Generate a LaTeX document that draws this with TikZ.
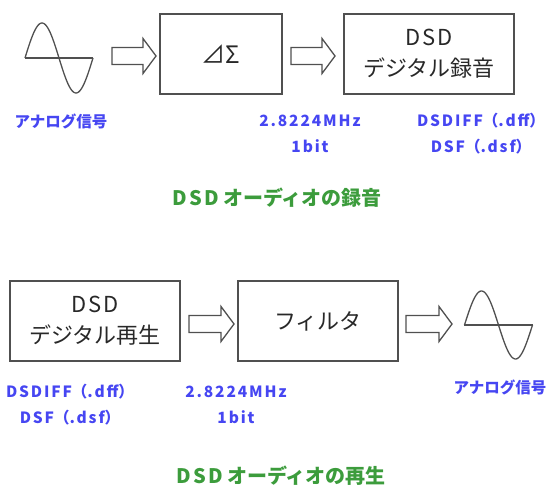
\documentclass[tikz,border=0pt]{standalone}
\usepackage{fontspec}
\setmainfont{Noto Sans CJK JP}
\usetikzlibrary{calc}
\definecolor{lblblue}{HTML}{4646F2}
\definecolor{lblgreen}{HTML}{3C9C3C}
\definecolor{linegray}{HTML}{505050}
\definecolor{txtgray}{HTML}{282828}
\newcommand\lsp[1]{{\addfontfeature{LetterSpace=12}#1}}
\newcommand\lspb[1]{{\addfontfeature{LetterSpace=10}#1}}
\newcommand\hollowarrow[2]{%
  \draw[arrowline] (#1) ++(0,-8.5) -- ++({#2-13},0) -- ++(0,-9) -- ++(13,17.5)
    -- ++(-13,17.5) -- ++(0,-9) -- ++({-(#2-13)},0) -- cycle;}
\tikzset{
  box/.style={draw=linegray, line width=1.3pt, text=txtgray, align=center,
    font=\fontsize{22}{31}\selectfont, inner sep=0pt},
  arrowline/.style={draw=linegray, line width=1.3pt, line join=miter},
  wave/.style={draw=linegray, line width=1.3pt},
  bluelbl/.style={text=lblblue, font=\fontsize{15.5}{26}\selectfont\bfseries, inner sep=0pt, align=center},
  greenlbl/.style={text=lblgreen, font=\fontsize{20}{22}\selectfont\bfseries, inner sep=0pt},
  wavebox/.style={minimum width=68pt, minimum height=70pt, inner sep=0pt}
}
\begin{document}
\begin{tikzpicture}[x=1pt,y=-1pt]
\useasboundingbox (0,0) rectangle (550,489);
% ---------- top row ----------
\node[wavebox] (sine1) at (59,58) {};
\draw[wave] (sine1.west) -- (sine1.east);
\draw[wave] plot[domain=0:360, samples=72, smooth] ({25+\x/360*68},{58-35*sin(\x)});
\coordinate (a1) at (112,56);
\hollowarrow{a1}{44}
\node[box, minimum width=122pt, minimum height=80pt, font=\fontsize{24}{31}\selectfont] (ds) at (221,54) {⊿Σ};
\coordinate (a2) at (291,56);
\hollowarrow{a2}{44}
\node[box, minimum width=170pt, minimum height=80pt] (rec) at (429,54) {\lspb{DSD}\\デジタル録音};
\node[bluelbl] (an1) at (61,121) {アナログ信号};
\node[bluelbl] (fq1) at (310,134) {\lsp{2.8224MHz}\\\lsp{1bit}};
\node[bluelbl] (fm1) at (481,134) {\lsp{DSDIFF}（\lsp{.dff}）\\\lsp{DSF}（\lsp{.dsf}）};
\node[greenlbl] (t1) at (277,198) {\lsp{DSD} オーディオの録音};
% ---------- bottom row ----------
\node[box, minimum width=170pt, minimum height=80pt] (play) at (95,321) {\lspb{DSD}\\デジタル再生};
\coordinate (b1) at (189,324);
\hollowarrow{b1}{45}
\node[box, minimum width=160pt, minimum height=80pt] (flt) at (318,321) {フィルタ};
\coordinate (b2) at (406,324);
\hollowarrow{b2}{46}
\node[wavebox] (sine2) at (498.5,325) {};
\draw[wave] (sine2.west) -- (sine2.east);
\draw[wave] plot[domain=0:360, samples=72, smooth] ({464.5+\x/360*68},{325-34*sin(\x)});
\node[bluelbl] (fm2) at (70,405) {\lsp{DSDIFF}（\lsp{.dff}）\\\lsp{DSF}（\lsp{.dsf}）};
\node[bluelbl] (fq2) at (236,405) {\lsp{2.8224MHz}\\\lsp{1bit}};
\node[bluelbl] (an2) at (500,387) {アナログ信号};
\node[greenlbl] (t2) at (281,476) {\lsp{DSD} オーディオの再生};
\end{tikzpicture}
\end{document}
